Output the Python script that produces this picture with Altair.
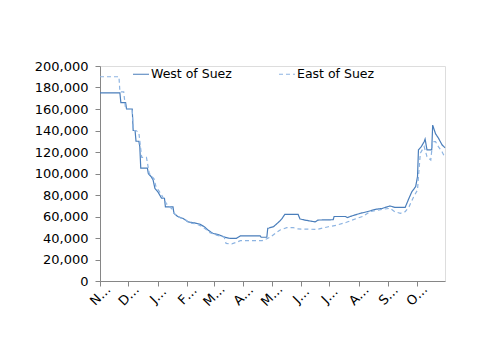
import altair as alt
import pandas as pd

west_dates = [
    "2021-11-01", "2021-11-22", "2021-11-23", "2021-11-28", "2021-11-29", "2021-12-05",
    "2021-12-06", "2021-12-08", "2021-12-09", "2021-12-12", "2021-12-13", "2021-12-14",
    "2021-12-21", "2021-12-22", "2021-12-25", "2021-12-27", "2021-12-29", "2022-01-01",
    "2022-01-05", "2022-01-08", "2022-01-09", "2022-01-17", "2022-01-18", "2022-01-22",
    "2022-01-28", "2022-02-02", "2022-02-09", "2022-02-14", "2022-02-19", "2022-02-23",
    "2022-02-28", "2022-03-07", "2022-03-13", "2022-03-18", "2022-03-25", "2022-03-29",
    "2022-04-19", "2022-04-20", "2022-04-26", "2022-04-27", "2022-05-03", "2022-05-07",
    "2022-05-10", "2022-05-12", "2022-05-15", "2022-05-29", "2022-05-31", "2022-06-05",
    "2022-06-16", "2022-06-19", "2022-07-05", "2022-07-06", "2022-07-18", "2022-07-20",
    "2022-07-23", "2022-07-30", "2022-08-03", "2022-08-10", "2022-08-19", "2022-08-26",
    "2022-09-03", "2022-09-08", "2022-09-19", "2022-09-23", "2022-09-26", "2022-09-30",
    "2022-10-02", "2022-10-03", "2022-10-06", "2022-10-09", "2022-10-10", "2022-10-12",
    "2022-10-17", "2022-10-18", "2022-10-21", "2022-10-24", "2022-10-28", "2022-10-31",
]
west_values = [
    175000, 175000, 166000, 166000, 160000, 160000,
    140000, 140000, 130000, 130000, 125000, 105000,
    105000, 100000, 97000, 94000, 86000, 83000,
    77000, 77000, 69000, 69000, 63000, 60000,
    58000, 55000, 54000, 53000, 50500, 47400,
    44300, 42800, 40600, 39700, 39700, 41900,
    41900, 40700, 40700, 49000, 50500, 53600,
    56000, 58000, 62000, 62000, 57700, 56700,
    55000, 56700, 57000, 60000, 60000, 59000,
    60000, 62000, 63000, 64500, 66700, 67600,
    69800, 68500, 68500, 77000, 83000, 87700,
    97000, 122000, 125000, 129600, 132000, 122000,
    122000, 145000, 137000, 133000, 126500, 124000,
]

east_dates = [
    "2021-11-01", "2021-11-21", "2021-11-22", "2021-11-26", "2021-11-28", "2021-12-05",
    "2021-12-06", "2021-12-09", "2021-12-12", "2021-12-15", "2021-12-20", "2021-12-23",
    "2021-12-28", "2021-12-30", "2022-01-02", "2022-01-05", "2022-01-10", "2022-01-16",
    "2022-01-19", "2022-01-24", "2022-01-30", "2022-02-04", "2022-02-11", "2022-02-16",
    "2022-02-21", "2022-02-25", "2022-03-03", "2022-03-07", "2022-03-12", "2022-03-14",
    "2022-03-20", "2022-03-25", "2022-03-29", "2022-04-21", "2022-04-25", "2022-04-30",
    "2022-05-05", "2022-05-10", "2022-05-17", "2022-05-24", "2022-05-29", "2022-06-18",
    "2022-06-30", "2022-07-09", "2022-07-19", "2022-07-30", "2022-08-05", "2022-08-13",
    "2022-08-26", "2022-09-03", "2022-09-08", "2022-09-14", "2022-09-19", "2022-09-23",
    "2022-09-28", "2022-10-02", "2022-10-03", "2022-10-05", "2022-10-09", "2022-10-12",
    "2022-10-16", "2022-10-18", "2022-10-21", "2022-10-24", "2022-10-28", "2022-10-31",
]
east_values = [
    190000, 190000, 176000, 176000, 160000, 160000,
    140000, 140000, 138000, 115000, 115000, 100000,
    95000, 88000, 84000, 80000, 72000, 67000,
    62000, 59000, 57000, 54000, 53000, 51000,
    48000, 45000, 43000, 42000, 41000, 35000,
    34500, 36000, 37500, 37500, 38800, 41000,
    44300, 47400, 49600, 49600, 48400, 48000,
    50500, 52000, 54600, 58300, 60000, 64500,
    66700, 67600, 64500, 63000, 64500, 69000,
    78400, 84700, 97000, 119000, 125000, 115700,
    112600, 129600, 129600, 125000, 120000, 115000,
]

series_names = ["West of Suez", "East of Suez"]
series_colors = ["#4A7EBB", "#8DB4E2"]
month_ticks = [
    "2021-11-01", "2021-12-01", "2022-01-01", "2022-02-01", "2022-03-01", "2022-04-01",
    "2022-05-01", "2022-06-01", "2022-07-01", "2022-08-01", "2022-09-01", "2022-10-01",
]


def to_dt(s):
    y, m, d = (int(p) for p in s.split("-"))
    return alt.DateTime(year=y, month=m, date=d, utc=True)


df = pd.concat([
    pd.DataFrame({"date": west_dates, "value": west_values, "series": series_names[0]}),
    pd.DataFrame({"date": east_dates, "value": east_values, "series": series_names[1]}),
])
df["date"] = df["date"] + "T00:00:00Z"

FONT = "DejaVu Sans"

chart = alt.Chart(df).mark_line(strokeWidth=1.2, interpolate="linear").encode(
    x=alt.X(
        "date:T",
        scale=alt.Scale(type="utc", domain=[to_dt("2021-11-01"), to_dt("2022-10-31")], nice=False),
        axis=alt.Axis(
            title=None, grid=False,
            values=[to_dt(s) for s in month_ticks],
            labelExpr="substring(utcFormat(datum.value, '%B'), 0, 1) + '…'",
            labelAngle=-45, labelAlign="center", labelBaseline="middle",
            labelFont=FONT, labelFontSize=13, labelColor="#000000",
            labelPadding=9, labelFlush=False, labelOverlap=False, labelBound=False,
            tickSize=5, tickColor="#868686", domainColor="#868686",
        ),
    ),
    y=alt.Y(
        "value:Q",
        scale=alt.Scale(domain=[0, 200000], nice=False),
        axis=alt.Axis(
            title=None, grid=False, values=list(range(0, 200001, 20000)), format=",d",
            labelFont=FONT, labelFontSize=13, labelColor="#000000",
            labelPadding=7, tickSize=5, tickColor="#868686", domainColor="#868686",
        ),
    ),
    color=alt.Color(
        "series:N",
        scale=alt.Scale(domain=series_names, range=series_colors),
        legend=alt.Legend(
            title=None, orient="none", legendX=32, legendY=-1, direction="horizontal",
            symbolType="stroke", symbolSize=256, symbolStrokeWidth=1.2,
            labelFont=FONT, labelFontSize=12.5, labelColor="#000000",
            labelOffset=1, columnPadding=44,
        ),
    ),
    strokeDash=alt.StrokeDash(
        "series:N",
        scale=alt.Scale(domain=series_names, range=[[1, 0], [4, 3]]),
        legend=None,
    ),
).properties(
    width=345, height=215,
    autosize=alt.AutoSizeParams(type="none"),
    padding={"left": 100, "top": 66, "right": 55, "bottom": 72},
).configure_view(stroke=None).configure(background="white")

chart.save("out.html", embed_options={"renderer": "svg", "actions": False})
